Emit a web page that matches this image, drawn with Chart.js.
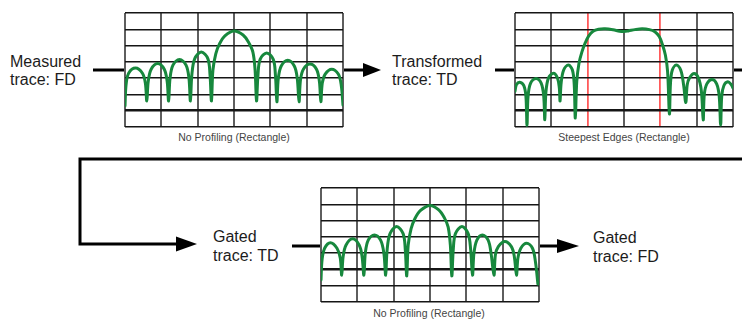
<!DOCTYPE html>
<html>
<head>
<meta charset="utf-8">
<script src="https://cdn.jsdelivr.net/npm/chart.js@4.4.1/dist/chart.umd.min.js"></script>
<style>
body { margin: 0; width: 742px; height: 320px; background: #fff; position: relative; overflow: hidden; font-family: "Liberation Sans", Arial, sans-serif; }
.plot { position: absolute; width: 222px; height: 118px; }
.cap { position: absolute; font-size: 10.5px; color: #444; transform: translate(-50%, -50%); white-space: nowrap; }
.lbl { position: absolute; font-size: 16px; line-height: 18px; color: #1c1c1c; white-space: nowrap; }
svg { position: absolute; left: 0; top: 0; }
</style>
</head>
<body>

<svg width="742" height="320">
  <g stroke="#000" stroke-width="3" fill="none">
    <line x1="93" y1="70" x2="125" y2="70"/>
    <line x1="343" y1="70" x2="366" y2="70"/>
    <line x1="495" y1="70" x2="515" y2="70"/>
    <line x1="733" y1="70" x2="742" y2="70"/>
    <polyline points="742,159 80,159 80,244 180,244"/>
    <line x1="292" y1="246" x2="321" y2="246"/>
    <line x1="539" y1="246" x2="560" y2="246"/>
  </g>
  <g fill="#000">
    <polygon points="363,63 381,70 363,77"/>
    <polygon points="176,236.5 197,244 176,251.5"/>
    <polygon points="557,239 579,246 557,253"/>
  </g>
</svg>

<div class="lbl" style="left:10px;top:53px">Measured<br>trace: FD</div>
<div class="lbl" style="left:392px;top:53px">Transformed<br>trace: TD</div>
<div class="lbl" style="left:213px;top:227px;line-height:19px">Gated<br>trace: TD</div>
<div class="lbl" style="left:593px;top:228px;line-height:19px">Gated<br>trace: FD</div>

<div class="plot" style="left:123px;top:11px"><canvas id="c1"></canvas></div>
<div class="plot" style="left:513px;top:11px"><canvas id="c2"></canvas></div>
<div class="plot" style="left:319px;top:186px"><canvas id="c3"></canvas></div>

<div class="cap" style="left:234px;top:137px">No Profiling (Rectangle)</div>
<div class="cap" style="left:624px;top:137px">Steepest Edges (Rectangle)</div>
<div class="cap" style="left:429px;top:313px">No Profiling (Rectangle)</div>

<script>
// grid: 6 divisions across, 7 divisions up
const xMax = 6
const yMax = 7

// measured trace, frequency domain
const measuredX = [0, 0.03, 0.1, 0.29, 0.48, 0.56, 0.6,
  0.64, 0.72, 0.9, 1.08, 1.16, 1.2,
  1.24, 1.32, 1.5, 1.68, 1.76, 1.8,
  1.84, 1.92, 2.1, 2.28, 2.34, 2.38,
  2.42, 2.5, 2.6, 2.75, 3.0, 3.25, 3.4, 3.52, 3.58, 3.62,
  3.66, 3.72, 3.9, 4.08, 4.14, 4.18,
  4.22, 4.3, 4.48, 4.66, 4.74, 4.79,
  4.83, 4.91, 5.09, 5.27, 5.35, 5.39,
  5.43, 5.51, 5.69, 5.87, 5.95, 6.0]
const measuredY = [1.3, 2.6, 3.3, 3.62, 3.3, 2.7, 1.6,
  2.8, 3.55, 3.9, 3.55, 2.8, 1.6,
  3.0, 3.8, 4.15, 3.8, 3.0, 1.6,
  3.2, 4.2, 4.6, 4.2, 3.2, 1.6,
  3.5, 4.5, 5.1, 5.6, 5.9, 5.65, 5.2, 4.6, 3.5, 1.6,
  3.2, 4.15, 4.55, 4.15, 3.2, 1.55,
  3.0, 3.75, 4.1, 3.75, 3.0, 1.55,
  2.9, 3.55, 3.87, 3.55, 2.8, 1.55,
  2.7, 3.25, 3.55, 3.25, 2.6, 1.35]

// transformed trace, time domain
const transformedX = [0, 0.04, 0.13, 0.24, 0.3, 0.33,
  0.36, 0.43, 0.58, 0.72, 0.79, 0.82,
  0.85, 0.92, 1.06, 1.17, 1.22, 1.24,
  1.27, 1.34, 1.47, 1.58, 1.63, 1.66,
  1.7, 1.76, 1.84, 1.93, 2.03, 2.15, 2.3, 2.48, 2.7, 2.88, 3.0, 3.12, 3.3, 3.5, 3.7, 3.85, 3.97, 4.06, 4.14, 4.2, 4.25,
  4.28, 4.33, 4.44, 4.56, 4.64, 4.7,
  4.74, 4.8, 4.93, 5.05, 5.13, 5.18,
  5.21, 5.28, 5.42, 5.55, 5.62, 5.66,
  5.69, 5.75, 5.86, 5.95, 6.0]
const transformedY = [2.2, 2.6, 2.75, 2.55, 1.9, 0.1,
  1.9, 2.7, 2.98, 2.7, 1.9, 0.45,
  2.1, 3.0, 3.3, 3.0, 2.4, 1.6,
  2.7, 3.5, 3.8, 3.5, 2.6, 0.55,
  2.8, 3.9, 4.6, 5.15, 5.6, 5.88, 6.0, 6.03, 5.97, 5.88, 5.86, 5.9, 5.98, 6.03, 5.98, 5.85, 5.55, 5.05, 4.4, 3.4, 0.8,
  2.7, 3.5, 3.8, 3.5, 2.6, 1.5,
  2.6, 3.0, 3.28, 3.0, 2.2, 0.43,
  2.0, 2.65, 2.92, 2.65, 1.9, 0.12,
  1.9, 2.55, 2.78, 2.6, 2.4]
// gate edges shown as red lines
const gateStart = 2
const gateStop = 4

// gated trace, back in frequency domain
const gatedX = [0, 0.03, 0.1, 0.26, 0.44, 0.53, 0.57,
  0.61, 0.69, 0.87, 1.05, 1.13, 1.18,
  1.22, 1.3, 1.47, 1.64, 1.73, 1.78,
  1.82, 1.9, 2.08, 2.26, 2.32, 2.36,
  2.4, 2.48, 2.58, 2.74, 3.0, 3.24, 3.4, 3.5, 3.56, 3.6,
  3.64, 3.7, 3.88, 4.05, 4.12, 4.17,
  4.21, 4.29, 4.44, 4.6, 4.68, 4.76,
  4.8, 4.88, 5.06, 5.24, 5.32, 5.38,
  5.42, 5.5, 5.66, 5.82, 5.9, 5.97]
const gatedY = [1.35, 2.6, 3.3, 3.64, 3.3, 2.7, 1.65,
  2.8, 3.5, 3.88, 3.5, 2.8, 1.65,
  3.0, 3.8, 4.12, 3.8, 3.0, 1.65,
  3.2, 4.2, 4.63, 4.2, 3.2, 1.6,
  3.5, 4.5, 5.1, 5.62, 5.93, 5.65, 5.15, 4.6, 3.5, 1.6,
  3.2, 4.2, 4.63, 4.2, 3.2, 1.65,
  3.0, 3.8, 4.12, 3.8, 3.0, 1.65,
  2.9, 3.4, 3.72, 3.4, 2.8, 1.65,
  2.7, 3.3, 3.6, 3.3, 2.5, 1.1]

function makeTrace(el, xs, ys, thickRow, redLines) {
  new Chart(document.getElementById(el), {
    type: 'line',
    data: {
      datasets: [{
        data: xs.map((x, i) => ({ x: x, y: ys[i] })),
        borderColor: '#17883d',
        borderWidth: 3,
        pointRadius: 0,
        tension: 0.35,
        borderJoinStyle: 'round',
        borderCapStyle: 'round'
      }]
    },
    options: {
      responsive: true,
      maintainAspectRatio: false,
      animation: false,
      layout: { padding: 2 },
      scales: {
        x: {
          type: 'linear',
          min: 0,
          max: xMax,
          ticks: { display: false, stepSize: 1 },
          border: { display: false },
          grid: {
            drawTicks: false,
            color: c => redLines.includes(c.tick.value) ? '#ff5a5a' : '#5e5e5e',
            lineWidth: c => redLines.includes(c.tick.value) ? 1.8 : 2
          }
        },
        y: {
          min: 0,
          max: yMax,
          ticks: { display: false, stepSize: 1 },
          border: { display: false },
          grid: {
            drawTicks: false,
            color: '#151515',
            lineWidth: c => c.tick.value === thickRow ? 2.5 : 1.4
          }
        }
      },
      plugins: {
        legend: { display: false },
        tooltip: { enabled: false }
      }
    }
  })
}

makeTrace('c1', measuredX, measuredY, 1, [])
makeTrace('c2', transformedX, transformedY, 1, [gateStart, gateStop])
makeTrace('c3', gatedX, gatedY, 2, [])
</script>
</body>
</html>
